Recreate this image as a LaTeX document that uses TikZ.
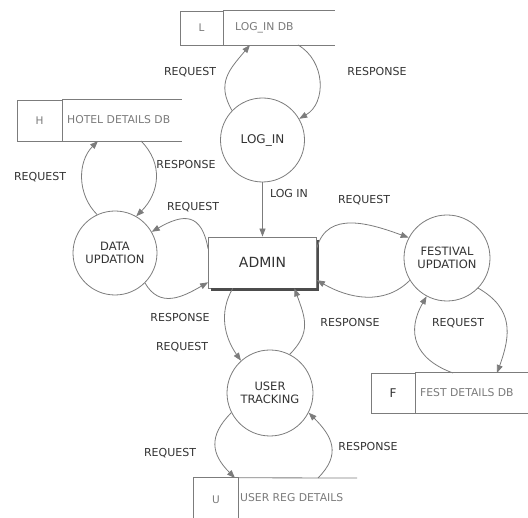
\documentclass[tikz,border=0pt]{standalone}
\usepackage{fontspec}
\setmainfont{DejaVu Sans}
\usetikzlibrary{arrows.meta}
\definecolor{ln}{HTML}{7C7C7C}
\definecolor{tx}{HTML}{333333}
\definecolor{st}{HTML}{7A7A7A}
\begin{document}
\begin{tikzpicture}[x=1pt,y=1pt,
  proc/.style={circle, draw=ln, line width=0.8pt, fill=white, minimum size=#1, inner sep=0pt, align=center, font=\fontsize{11.5}{13.5}\selectfont, text=tx},
  flow/.style={draw=ln, line width=0.8pt, -{Triangle[length=8pt,width=6pt]}},
  lbl/.style={font=\fontsize{11}{12}\selectfont, text=tx, inner sep=0pt},
  cell/.style={draw=ln, line width=0.8pt, inner sep=0pt, font=\fontsize{10.5}{12}\selectfont, text=st},
  stxt/.style={font=\fontsize{10.8}{12}\selectfont, text=st, anchor=west, inner sep=0pt},
  sline/.style={draw=ln, line width=0.8pt}]
\useasboundingbox (0,0) rectangle (528,518);

% processes
\node[proc=84pt, font=\fontsize{12}{14}\selectfont] (login) at (262.5,378) {LOG\_IN};
\node[proc=84pt] (datau) at (115,265) {DATA\\UPDATION};
\node[proc=86pt] (fest) at (447,260) {FESTIVAL\\UPDATION};
\node[proc=86pt] (user) at (270,125) {USER\\TRACKING};

% admin entity
\node[draw=ln, line width=0.8pt, fill=white, minimum width=108pt, minimum height=51pt, inner sep=0pt,
      font=\fontsize{14}{16}\selectfont, text=tx] (admin) at (262.5,255.5) {ADMIN};
\draw[line width=2.4pt, color=black!70] ([xshift=1.2pt,yshift=-3pt]admin.north east) -- ([xshift=1.2pt,yshift=-1.2pt]admin.south east) -- ([xshift=3pt,yshift=-1.2pt]admin.south west);

% data stores
\node[cell, minimum width=43pt, minimum height=34pt] (ldbk) at (201.5,490) {L};
\node[stxt] (ldbn) at (235,490) {LOG\_IN DB};
\draw[sline] (ldbk.north east) -- ++(112,0);
\draw[sline] (ldbk.south east) -- ++(112,0);
\coordinate (ldbA) at (250,473);
\coordinate (ldbB) at (298,473);

\node[cell, minimum width=45pt, minimum height=41pt] (hdbk) at (39.5,397.5) {H};
\node[stxt] (hdbn) at (67,398) {HOTEL DETAILS DB};
\draw[sline] (hdbk.north east) -- ++(120,0);
\draw[sline] (hdbk.south east) -- ++(120,0);
\coordinate (hdbA) at (98,377);
\coordinate (hdbB) at (141,377);

\node[cell, minimum width=44pt, minimum height=40pt, text=tx, font=\fontsize{12}{13}\selectfont] (fdbk) at (393,125) {F};
\node[stxt] (fdbn) at (420,125) {FEST DETAILS DB};
\draw[sline] (fdbk.north east) -- ++(120,0);
\draw[sline] (fdbk.south east) -- ++(120,0);
\coordinate (fdbA) at (453,145);
\coordinate (fdbB) at (497,145);

\node[inner sep=0pt, minimum width=44pt, minimum height=44pt, font=\fontsize{10.5}{12}\selectfont, text=st] (uregk) at (216,18) {U};
\node[stxt] (uregn) at (240,20) {USER REG DETAILS};
\draw[sline] (uregk.south west) -- (uregk.north west) -- (uregk.north east) -- (uregk.south east);
\draw[sline] (uregk.north east) -- (357,40);
\coordinate (uregA) at (235,40);
\coordinate (uregB) at (318,40);

% flows
\draw[flow] (login.136) to[out=120,in=230,looseness=1.2] (ldbA);
\draw[flow] (ldbB) to[out=-30,in=30,looseness=1.1] (login.30);

\draw[flow] (datau.115) to[out=135,in=225] (hdbA);
\draw[flow] (hdbB) to[out=-45,in=45,looseness=1.1] (datau.60);

\draw[flow] (admin.166) to[out=100,in=30,looseness=1.6] (datau.30);
\draw[flow] (datau.-45) to[out=-60,in=210,looseness=1.2] (admin.200);

\draw[flow] (login.south) -- (admin.north);

\draw[flow] (admin.15) to[out=75,in=160,looseness=1.1] (fest.152);
\draw[flow] (fest.211) to[out=225,in=-30] (admin.-18);

\draw[flow] (fdbA) to[out=160,in=240,looseness=1.3] (fest.242);
\draw[flow] (fest.-44) to[out=-30,in=70,looseness=1.2] (fdbB);

\draw[flow] (admin.221) to[out=240,in=125] (user.132);
\draw[flow] (user.63) to[out=45,in=-70,looseness=1.2] (admin.-39);

\draw[flow] (user.207) to[out=225,in=135,looseness=1.3] (uregA);
\draw[flow] (uregB) to[out=45,in=-45,looseness=1.3] (user.-27);

% labels
\node[lbl] (l1) at (190,446) {REQUEST};
\node[lbl] (l2) at (377,446) {RESPONSE};
\node[lbl] (l3) at (40,341) {REQUEST};
\node[lbl] (l4) at (186,353) {RESPONSE};
\node[lbl] (l5) at (193,311) {REQUEST};
\node[lbl] (l6) at (289,324) {LOG IN};
\node[lbl] (l7) at (364,318) {REQUEST};
\node[lbl] (l8) at (180,200) {RESPONSE};
\node[lbl] (l9) at (182,171) {REQUEST};
\node[lbl] (l10) at (350,195) {RESPONSE};
\node[lbl] (l11) at (458,195) {REQUEST};
\node[lbl] (l12) at (170,65) {REQUEST};
\node[lbl] (l13) at (368,71) {RESPONSE};
\end{tikzpicture}
\end{document}
